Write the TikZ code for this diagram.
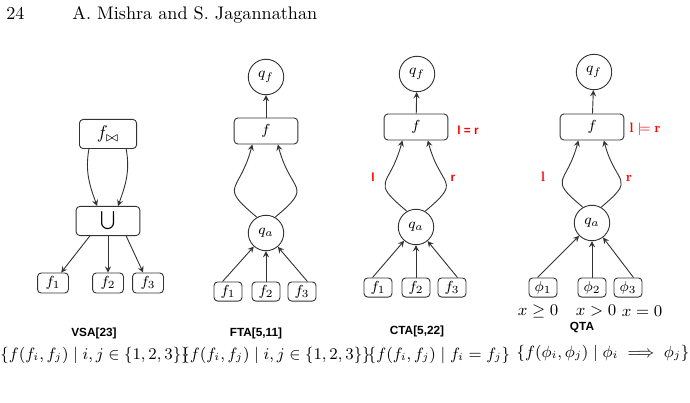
\documentclass[tikz,border=0pt]{standalone}
\usepackage{amsmath}
\usepackage{amssymb}
\usepackage{fontspec}
\usetikzlibrary{arrows}
\newfontfamily\figfont{Liberation Sans}
\colorlet{edgegray}{black!80}
\tikzset{
  box/.style={draw=edgegray,rounded corners=2pt,inner sep=0pt,line width=0.5pt,font=\fontsize{8.5}{10}\selectfont},
  fbox/.style={box,minimum width=15.4pt,minimum height=10.5pt},
  opbox/.style={box,minimum width=35pt,minimum height=14.3pt},
  state/.style={draw=edgegray,circle,minimum size=19.5pt,inner sep=0pt,line width=0.5pt,font=\fontsize{8.5}{10}\selectfont},
  edge/.style={->,draw=edgegray,line width=0.5pt},
  redlab/.style={text=red,inner sep=0pt,font=\figfont\bfseries\fontsize{6.5}{7}\selectfont},
  redmath/.style={text=red,inner sep=0pt,font=\fontsize{7.5}{8}\selectfont},
  caption/.style={inner sep=0pt,font=\figfont\bfseries\fontsize{6.5}{7}\selectfont},
  guard/.style={inner sep=0pt,font=\fontsize{9.5}{11}\selectfont},
  setlab/.style={inner sep=0pt,font=\fontsize{8.8}{11}\selectfont}
}

\begin{document}
\begin{tikzpicture}[x=0.55pt,y=0.55pt,>=stealth]
\useasboundingbox (0,0) rectangle (690,-403);
% running head
\node[anchor=base west,inner sep=0pt] (pageno) at (6,-20) {24};
\node[anchor=base west,inner sep=0pt] (authors) at (72,-20) {A. Mishra and S. Jagannathan};

% VSA
\node[box,minimum width=31.4pt,minimum height=16pt,font=\normalsize] (vjoin) at (108,-134) {$f_{\bowtie}$};
\node[box,minimum width=35pt,minimum height=16pt,font=\normalsize] (vunion) at (108,-221) {$\bigcup$};
\node[box,minimum width=17pt,minimum height=11pt] (vf1) at (53,-283) {$f_1$};
\node[box,minimum width=17pt,minimum height=11pt] (vf2) at (108,-283) {$f_2$};
\node[box,minimum width=17pt,minimum height=11pt] (vf3) at (148,-283) {$f_3$};
\draw[edge] ([xshift=-10.5pt]vjoin.south) to[out=-100,in=110] ([xshift=-6pt]vunion.north);
\draw[edge] ([xshift=10pt]vjoin.south) to[out=-80,in=70] ([xshift=5.5pt]vunion.north);
\draw[edge] ([xshift=-10pt]vunion.south) -- (vf1);
\draw[edge] (vunion) -- (vf2);
\draw[edge] ([xshift=10pt]vunion.south) -- (vf3);

% FTA
\node[state] (aqf) at (266,-77) {$q_f$};
\node[opbox] (af) at (266,-131) {$f$};
\node[state] (aqa) at (266,-233) {$q_a$};
\node[fbox] (af1) at (228,-291.5) {$f_1$};
\node[fbox] (af2) at (266,-291.5) {$f_2$};
\node[fbox] (af3) at (302,-291.5) {$f_3$};
\draw[edge] (af) -- (aqf);
\draw[edge] (aqa.120) to[out=140,in=-105,looseness=1.8] ([xshift=-7.5pt]af.south);
\draw[edge] (aqa.60) to[out=40,in=-75,looseness=1.8] ([xshift=6.5pt]af.south);
\draw[edge] ([xshift=-3pt]af1.north) -- (aqa);
\draw[edge] (af2) -- (aqa);
\draw[edge] ([xshift=3pt]af3.north) -- (aqa);

% CTA
\node[state] (cqf) at (417,-74) {$q_f$};
\node[opbox] (cf) at (416,-127) {$f$};
\node[state] (cqa) at (416,-227) {$q_a$};
\node[fbox] (cf1) at (378,-287.5) {$f_1$};
\node[fbox] (cf2) at (416,-287.5) {$f_2$};
\node[fbox] (cf3) at (452,-287.5) {$f_3$};
\draw[edge] (cf) -- (cqf);
\draw[edge] (cqa.120) to[out=140,in=-105,looseness=1.8] ([xshift=-7.5pt]cf.south);
\draw[edge] (cqa.60) to[out=40,in=-75,looseness=1.8] ([xshift=6.5pt]cf.south);
\draw[edge] ([xshift=-3pt]cf1.north) -- (cqa);
\draw[edge] (cf2) -- (cqa);
\draw[edge] ([xshift=3pt]cf3.north) -- (cqa);
\node[redlab] (ceq) at (468,-130) {l = r};
\node[redlab] (cl) at (373,-177) {l};
\node[redlab] (cr) at (453,-178) {r};

% QTA
\node[state] (qqf) at (594,-72) {$q_f$};
\node[opbox] (qf) at (592,-127) {$f$};
\node[state] (qqa) at (592,-223) {$q_a$};
\node[fbox] (qp1) at (543,-287.5) {$\phi_1$};
\node[fbox] (qp2) at (592,-287.5) {$\phi_2$};
\node[fbox] (qp3) at (628,-287.5) {$\phi_3$};
\draw[edge] (qf) -- (qqf);
\draw[edge] (qqa.120) to[out=140,in=-105,looseness=1.8] ([xshift=-7.5pt]qf.south);
\draw[edge] (qqa.60) to[out=40,in=-75,looseness=1.8] ([xshift=6.5pt]qf.south);
\draw[edge] ([xshift=-3pt]qp1.north) -- (qqa);
\draw[edge] (qp2) -- (qqa);
\draw[edge] ([xshift=3pt]qp3.north) -- (qqa);
\node[redmath] (qent) at (645,-129) {$\mathbf{l}\models\mathbf{r}$};
\node[redmath] (ql) at (543,-177) {$\mathbf{l}$};
\node[redmath] (qr) at (629,-178) {$\mathbf{r}$};
\node[guard] (qc1) at (538,-311) {$x\geq0$};
\node[guard] (qc2) at (596,-311) {$x>0$};
\node[guard] (qc3) at (642,-311) {$x=0$};

% captions
\node[caption] (vname) at (94,-333) {VSA[23]};
\node[caption] (aname) at (256,-333) {FTA[5,11]};
\node[caption] (cname) at (417,-331) {CTA[5,22]};
\node[caption] (qname) at (582,-328) {QTA};
\node[setlab] (vset) at (95,-355) {$\{f(f_i,f_j)\mid i,j\in\{1,2,3\}\}$};
\node[setlab] (aset) at (276,-355) {$\{f(f_i,f_j)\mid i,j\in\{1,2,3\}\}$};
\node[setlab] (cset) at (439,-355) {$\{f(f_i,f_j)\mid f_i=f_j\}$};
\node[setlab] (qset) at (603,-353) {$\{f(\phi_i,\phi_j)\mid\phi_i\implies\phi_j\}$};
\end{tikzpicture}
\end{document}
